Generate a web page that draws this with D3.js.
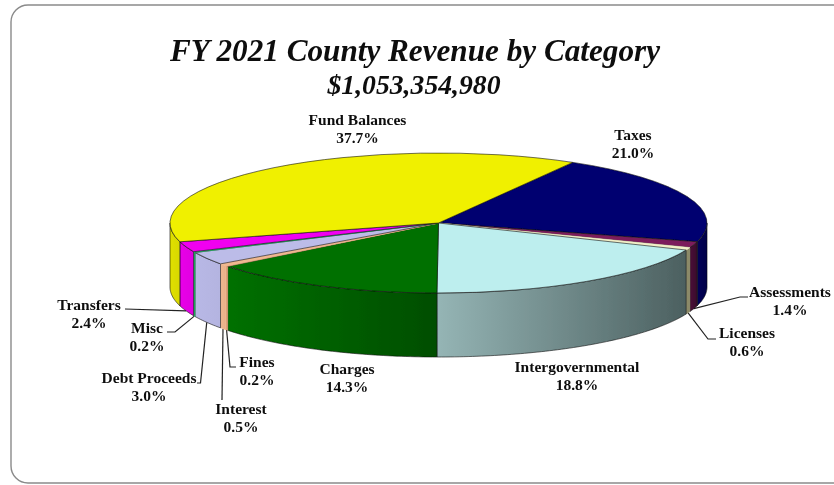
<!DOCTYPE html>
<html><head><meta charset="utf-8">
<script src="https://cdn.jsdelivr.net/npm/d3@7"></script>
<style>html,body{margin:0;padding:0;background:#fff;overflow:hidden}svg{display:block}
text{font-family:"Liberation Serif",serif;font-weight:bold;fill:#111}</style>
</head><body><svg id="c" width="834" height="485"></svg>
<script>
const categories=["Taxes","Assessments","Licenses","Intergovernmental","Charges","Fines","Interest","Debt Proceeds","Misc","Transfers","Fund Balances"];
const shares=[21.0,1.4,0.6,18.8,14.3,0.2,0.5,3.0,0.2,2.4,37.7];
const titleLines=["FY 2021 County Revenue by Category","$1,053,354,980"];
const topColors=["#000070","#7c1f5c","#f2f0c8","#bdeeee","#006f00","#e8a880","#f0b890","#bcbce8","#20b060","#f000f0","#f0f000"];
const wallLeft=["#000058","#4a1238","#8c8a68","#95b5b5","#007000","#e0a078","#f0b890","#b8b8e6","#20b060","#e800e8","#e0e000"];
const wallRight=["#000048","#3a0e2c","#8c8a68","#4c6060","#004e00","#e0a078","#e8b088","#b4b4e0","#20b060","#e000e0","#d8d800"];
const labelAt=[[633,140],[790,297],[747,338],[577,372],[347,374],[257,367],[241,414],[149,383],[147,333],[89,310],[357.5,125]];
const elbows=[null,[[740,297],[748,297]],[[708,339],[716,339]],null,null,[[230,367],[236,367]],[[222,400]],[[200.5,383],[197,383]],[[175,332],[167,332]],[[125,309]],null];
const cx=438.5,cy=223,rx=268.5,ry=70,depth=64,startDeg=30;
const svg=d3.select("#c");
const defs=svg.append("defs");
const blur=defs.append("filter").attr("id","soft").attr("x","-5%").attr("y","-5%").attr("width","110%").attr("height","110%");
blur.append("feGaussianBlur").attr("stdDeviation",0.45);
svg.append("rect").attr("x",11).attr("y",5).attr("width",860).attr("height",478).attr("rx",17).attr("fill","#fff").attr("stroke","#8a8a8a").attr("stroke-width",1.4);
const root=svg.append("g").attr("filter","url(#soft)");
const start=startDeg*Math.PI/180;
const slices=d3.pie().sort(null).value(d=>d).startAngle(start).endAngle(start+2*Math.PI)(shares);
const sx=d3.scaleLinear().domain([-1,1]).range([cx-rx,cx+rx]);
const sy=d3.scaleLinear().domain([-1,1]).range([cy-ry,cy+ry]);
const px=a=>sx(Math.sin(a)), py=a=>sy(-Math.cos(a));
const front=[Math.PI/2,3*Math.PI/2];
function wall(a0,a1){
  const lo=Math.max(a0,front[0]),hi=Math.min(a1,front[1]);
  if(hi<=lo)return null;
  const n=Math.max(2,Math.ceil((hi-lo)*60));
  const as=d3.range(n+1).map(i=>lo+(hi-lo)*i/n);
  const top=as.map(a=>[px(a),py(a)]);
  const bot=as.slice().reverse().map(a=>[px(a),py(a)+depth]);
  return {d:d3.line()(top.concat(bot))+"Z",x0:px(hi),x1:px(lo)};
}
const edge=i=>shares[i]<1?topColors[i]:"#111";
slices.forEach((s,i)=>{
  if(!elbows[i])return;
  const m=(s.startAngle+s.endAngle)/2;
  const mm=m>2*Math.PI?m-2*Math.PI:m;
  const pts=[[px(mm),py(mm)+depth]].concat(elbows[i]);
  root.append("path").attr("d",d3.line()(pts)).attr("fill","none").attr("stroke","#222").attr("stroke-width",1.2);
});
const parts=[];
slices.forEach((s,i)=>{
  [[s.startAngle,s.endAngle],[s.startAngle-2*Math.PI,s.endAngle-2*Math.PI]].forEach(r=>{
    const w=wall(r[0],r[1]);
    if(w)parts.push({i,...w});
  });
});
parts.forEach((w,k)=>{
  const g=defs.append("linearGradient").attr("id","w"+k).attr("gradientUnits","userSpaceOnUse").attr("x1",w.x0).attr("x2",w.x1).attr("y1",0).attr("y2",0);
  g.append("stop").attr("offset",0).attr("stop-color",wallLeft[w.i]);
  g.append("stop").attr("offset",1).attr("stop-color",wallRight[w.i]);
  root.append("path").attr("d",w.d).attr("fill",`url(#w${k})`).attr("stroke",shares[w.i]<1?wallLeft[w.i]:"#111").attr("stroke-width",0.6).attr("stroke-linejoin","round");
});
const arc=d3.arc().innerRadius(0).outerRadius(rx);
root.append("g").attr("transform",`translate(${cx},${cy}) scale(1,${ry/rx})`)
  .selectAll("path").data(slices).join("path").attr("d",arc).attr("fill",(d,i)=>topColors[i])
  .attr("stroke",(d,i)=>edge(i)).attr("stroke-width",0.6).attr("vector-effect","non-scaling-stroke").attr("stroke-linejoin","round");
const lab=root.append("g").attr("text-anchor","middle").attr("font-size",15.5);
categories.forEach((c,i)=>{
  lab.append("text").attr("x",labelAt[i][0]).attr("y",labelAt[i][1]).text(c);
  lab.append("text").attr("x",labelAt[i][0]).attr("y",labelAt[i][1]+18).text(shares[i].toFixed(1)+"%");
});
const tt=root.append("g").attr("text-anchor","middle").attr("font-style","italic");
tt.append("text").attr("x",415).attr("y",61).attr("font-size",31.2).text(titleLines[0]);
tt.append("text").attr("x",414).attr("y",94).attr("font-size",27.7).text(titleLines[1]);
</script></body></html>
